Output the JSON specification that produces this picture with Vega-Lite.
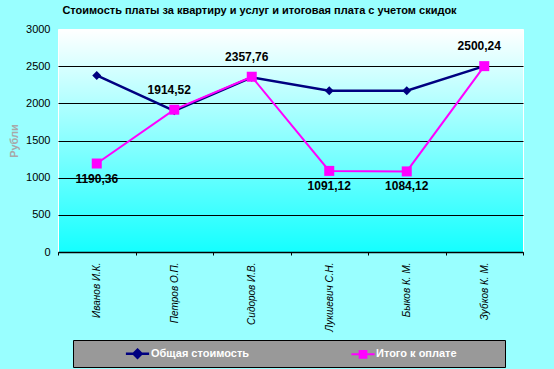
{
  "$schema": "https://vega.github.io/schema/vega-lite/v6.json",
  "autosize": {"type": "none"},
  "padding": {"left": 58, "top": 29, "right": 31, "bottom": 117},
  "width": 465,
  "height": 223,
  "background": "#99ffff",
  "title": {
    "text": "Стоимость платы за квартиру и услуг и итоговая плата с учетом скидок",
    "font": "Liberation Sans",
    "fontSize": 11,
    "fontWeight": "bold",
    "color": "black",
    "anchor": "middle",
    "dx": -31,
    "offset": 7
  },
  "config": {
    "font": "Liberation Sans",
    "locale": {"number": {"decimal": ",", "thousands": " ", "grouping": [3], "currency": ["", ""]}},
    "view": {
      "stroke": "white",
      "strokeWidth": 1,
      "fill": {
        "gradient": "linear", "x1": 0, "y1": 0, "x2": 0, "y2": 1,
        "stops": [{"offset": 0, "color": "#ffffff"}, {"offset": 1, "color": "#14ffff"}]
      }
    }
  },
  "data": {
    "values": [
      {"name": "Иванов И.К.", "series": "Общая стоимость", "value": 2375},
      {"name": "Петров О.П.", "series": "Общая стоимость", "value": 1900},
      {"name": "Сидоров И.В.", "series": "Общая стоимость", "value": 2350},
      {"name": "Лукшевич С.Н.", "series": "Общая стоимость", "value": 2170},
      {"name": "Быков К. М.", "series": "Общая стоимость", "value": 2170},
      {"name": "Зубков К. М.", "series": "Общая стоимость", "value": 2500},
      {"name": "Иванов И.К.", "series": "Итого к оплате", "value": 1190.36},
      {"name": "Петров О.П.", "series": "Итого к оплате", "value": 1914.52},
      {"name": "Сидоров И.В.", "series": "Итого к оплате", "value": 2357.76},
      {"name": "Лукшевич С.Н.", "series": "Итого к оплате", "value": 1091.12},
      {"name": "Быков К. М.", "series": "Итого к оплате", "value": 1084.12},
      {"name": "Зубков К. М.", "series": "Итого к оплате", "value": 2500.24}
    ]
  },
  "encoding": {
    "x": {
      "field": "name", "type": "nominal", "sort": null,
      "axis": {
        "title": null,
        "labelAngle": -90,
        "labelFontStyle": "italic",
        "labelFontSize": 10,
        "labelColor": "black",
        "labelPadding": 7,
        "tickBand": "extent",
        "tickColor": "black",
        "tickSize": 3,
        "domainColor": "black",
        "domainWidth": 1.5,
        "grid": false
      }
    },
    "y": {
      "field": "value", "type": "quantitative",
      "scale": {"domain": [0, 3000], "nice": false},
      "axis": {
        "title": "Рубли",
        "titleColor": "#a8a8a8",
        "titleFontWeight": "bold",
        "titleFontSize": 11,
        "titlePadding": 6,
        "values": [0, 500, 1000, 1500, 2000, 2500, 3000],
        "format": "d",
        "labelFontSize": 11,
        "labelColor": "black",
        "labelPadding": 8,
        "ticks": false,
        "domain": false,
        "grid": true,
        "gridColor": {"condition": {"test": "datum.value >= 3000", "value": "transparent"}, "value": "black"},
        "gridOpacity": 1,
        "gridWidth": 1
      }
    }
  },
  "layer": [
    {
      "mark": {"type": "line"},
      "encoding": {
        "color": {
          "field": "series", "type": "nominal",
          "scale": {"domain": ["Общая стоимость", "Итого к оплате"], "range": ["#000080", "#ff00ff"]},
          "legend": {
            "orient": "none",
            "legendX": 15,
            "legendY": 311,
            "direction": "horizontal",
            "title": ".",
            "titleColor": "#999999",
            "titleOrient": "right",
            "titlePadding": 40,
            "titleFontSize": 11,
            "fillColor": "#999999",
            "strokeColor": "black",
            "padding": 4,
            "symbolOffset": 51,
            "symbolSize": 256,
            "symbolStrokeWidth": 2,
            "labelOffset": 4,
            "columnPadding": 53,
            "labelColor": "white",
            "labelFontWeight": "bold",
            "labelFontSize": 11,
            "labelFont": "Liberation Sans",
            "encode": {
              "symbols": {
                "update": {
                  "shape": {"signal": "datum.value === 'Общая стоимость' ? 'M-1.45,0H1.45M0,-0.5L0.5,0L0,0.5L-0.5,0Z' : 'M-1.45,0H1.45M-0.42,-0.42H0.42V0.42H-0.42Z'"},
                  "fill": {"signal": "scale('color', datum.value)"},
                  "stroke": {"signal": "scale('color', datum.value)"},
                  "opacity": {"value": 1},
                  "fillOpacity": {"value": 1}
                }
              }
            }
          }
        },
        "strokeWidth": {
          "field": "series", "type": "nominal",
          "scale": {"domain": ["Общая стоимость", "Итого к оплате"], "range": [2.5, 2]},
          "legend": null
        }
      }
    },
    {
      "mark": {"type": "point", "filled": true, "opacity": 1},
      "encoding": {
        "color": {"field": "series", "type": "nominal", "legend": null},
        "shape": {"condition": {"test": "datum.series == 'Общая стоимость'", "value": "diamond"}, "value": "square"},
        "size": {"condition": {"test": "datum.series == 'Общая стоимость'", "value": 81}, "value": 100}
      }
    },
    {
      "transform": [
        {"filter": "datum.series == 'Итого к оплате'"},
        {"filter": {"field": "name", "oneOf": ["Петров О.П.", "Сидоров И.В.", "Зубков К. М."]}}
      ],
      "mark": {"type": "text", "fontWeight": "bold", "fontSize": 12, "color": "black", "baseline": "middle", "dy": -20, "dx": -5},
      "encoding": {"text": {"field": "value", "type": "quantitative", "format": ".2f"}}
    },
    {
      "transform": [
        {"filter": "datum.series == 'Итого к оплате'"},
        {"filter": {"field": "name", "oneOf": ["Иванов И.К.", "Лукшевич С.Н.", "Быков К. М."]}}
      ],
      "mark": {"type": "text", "fontWeight": "bold", "fontSize": 12, "color": "black", "baseline": "middle", "dy": 15},
      "encoding": {"text": {"field": "value", "type": "quantitative", "format": ".2f"}}
    }
  ]
}
